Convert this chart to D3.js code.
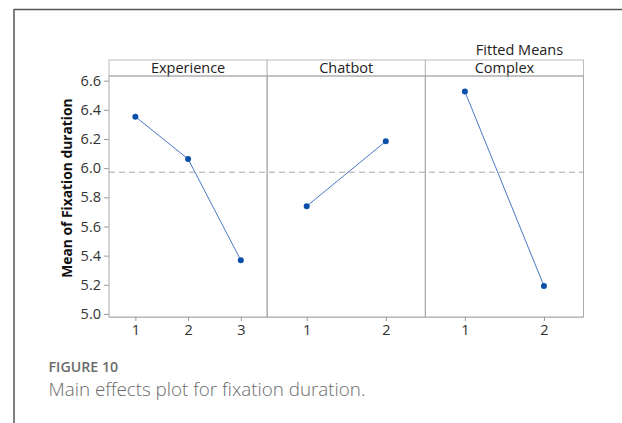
<!DOCTYPE html>
<html>
<head>
<meta charset="utf-8">
<script src="https://cdn.jsdelivr.net/npm/d3@7"></script>
<style>
  html, body { margin: 0; padding: 0; background: #fff; }
  svg { display: block; }
</style>
</head>
<body>
<svg id="chart" width="622" height="423"></svg>
<script>
// ---- data ----
const factors = ["Experience", "Chatbot", "Complex"];
const experienceLevels = ["1", "2", "3"];
const experienceMeans = [6.353, 6.063, 5.368];
const chatbotLevels = ["1", "2"];
const chatbotMeans = [5.739, 6.184];
const complexLevels = ["1", "2"];
const complexMeans = [6.525, 5.192];
const grandMean = 5.972;
const yTicks = [5.0, 5.2, 5.4, 5.6, 5.8, 6.0, 6.2, 6.4, 6.6];
const yLabel = "Mean of Fixation duration";
const legendTitle = "Fitted Means";
const figureLabel = "FIGURE 10";
const captionText = "Main effects plot for fixation duration.";

const panels = [
  { name: factors[0], levels: experienceLevels, means: experienceMeans },
  { name: factors[1], levels: chatbotLevels, means: chatbotMeans },
  { name: factors[2], levels: complexLevels, means: complexMeans }
];

// ---- layout ----
const svg = d3.select("#chart");
const font = "'Open Sans', 'Noto Sans', sans-serif";
const plotLeft = 109, plotRight = 583.5, headerTop = 60, plotTop = 76, plotBottom = 317;

// outer frame
svg.append("line").attr("x1", 14).attr("x2", 622).attr("y1", 9.5).attr("y2", 9.5)
  .attr("stroke", "#555").attr("stroke-width", 1.5);
svg.append("line").attr("x1", 14).attr("x2", 14).attr("y1", 9).attr("y2", 423)
  .attr("stroke", "#555").attr("stroke-width", 1.5);

const y = d3.scaleLinear().domain([4.979, 6.632]).range([plotBottom, plotTop]);
const panelScale = d3.scaleBand().domain(factors).range([plotLeft, plotRight]).padding(0);

// grand mean dashed line
svg.append("line")
  .attr("x1", plotLeft).attr("x2", plotRight)
  .attr("y1", y(grandMean)).attr("y2", y(grandMean))
  .attr("stroke", "#aaa").attr("stroke-width", 1).attr("stroke-dasharray", "6,4");

// y axis
const yAxis = svg.append("g").attr("transform", `translate(${plotLeft},0)`)
  .call(d3.axisLeft(y).tickValues(yTicks).tickFormat(d3.format(".1f")).tickSize(5).tickPadding(3));
yAxis.select(".domain").remove();
yAxis.selectAll(".tick line").attr("stroke", "#999");
yAxis.selectAll(".tick text").attr("fill", "#333").style("font-family", font).style("font-size", "14.5px");

// y label
svg.append("text")
  .attr("transform", `translate(66,${(96 + 280) / 2}) rotate(-90)`)
  .attr("text-anchor", "middle").attr("dominant-baseline", "central")
  .style("font-family", font).style("font-size", "13.8px").style("font-weight", "bold")
  .attr("fill", "#111").text(yLabel);

// panels
panels.forEach(p => {
  const x0 = panelScale(p.name), w = panelScale.bandwidth();
  const x = d3.scalePoint().domain(p.levels).range([x0, x0 + w]).padding(0.5);
  const g = svg.append("g");

  // header strip
  g.append("rect").attr("x", x0).attr("y", headerTop).attr("width", w).attr("height", plotTop - headerTop)
    .attr("fill", "#fff").attr("stroke", "#bbb").attr("stroke-width", 1);
  g.append("text").attr("x", x0 + w / 2).attr("y", (headerTop + plotTop) / 2 - 1)
    .attr("text-anchor", "middle").attr("dominant-baseline", "central")
    .style("font-family", font).style("font-size", "14.5px").attr("fill", "#222").text(p.name);

  // panel border
  g.append("rect").attr("x", x0).attr("y", plotTop).attr("width", w).attr("height", plotBottom - plotTop)
    .attr("fill", "none").attr("stroke", "#aaa").attr("stroke-width", 1);

  // x axis
  const xa = g.append("g").attr("transform", `translate(0,${plotBottom})`)
    .call(d3.axisBottom(x).tickSize(4).tickPadding(4));
  xa.select(".domain").attr("stroke", "#bbb").attr("d", `M${x0},0.5H${x0 + w}`);
  xa.selectAll(".tick line").attr("stroke", "#999");
  xa.selectAll(".tick text").attr("fill", "#333").style("font-family", font).style("font-size", "14.5px");

  // line + points
  const data = p.levels.map((l, i) => ({ l, v: p.means[i] }));
  g.append("path").datum(data)
    .attr("d", d3.line().x(d => x(d.l)).y(d => y(d.v)))
    .attr("fill", "none").attr("stroke", "#4a78c8").attr("stroke-width", 1);
  g.selectAll("circle").data(data).join("circle")
    .attr("cx", d => x(d.l)).attr("cy", d => y(d.v)).attr("r", 3)
    .attr("fill", "#0b4fa8");
});

// legend title
svg.append("text").attr("x", 519.5).attr("y", 49).attr("text-anchor", "middle").attr("dominant-baseline", "central")
  .style("font-family", font).style("font-size", "14.5px").attr("fill", "#222").text(legendTitle);

// caption
svg.append("text").attr("x", 48.5).attr("y", 371.5)
  .style("font-family", font).style("font-size", "14.2px").style("font-weight", "600")
  .attr("fill", "#6b6b6b").text(figureLabel);
svg.append("text").attr("x", 48.5).attr("y", 395.5)
  .style("font-family", font).style("font-size", "18.8px").style("font-weight", "300")
  .attr("fill", "#6b6b6b").text(captionText);
</script>
</body>
</html>
